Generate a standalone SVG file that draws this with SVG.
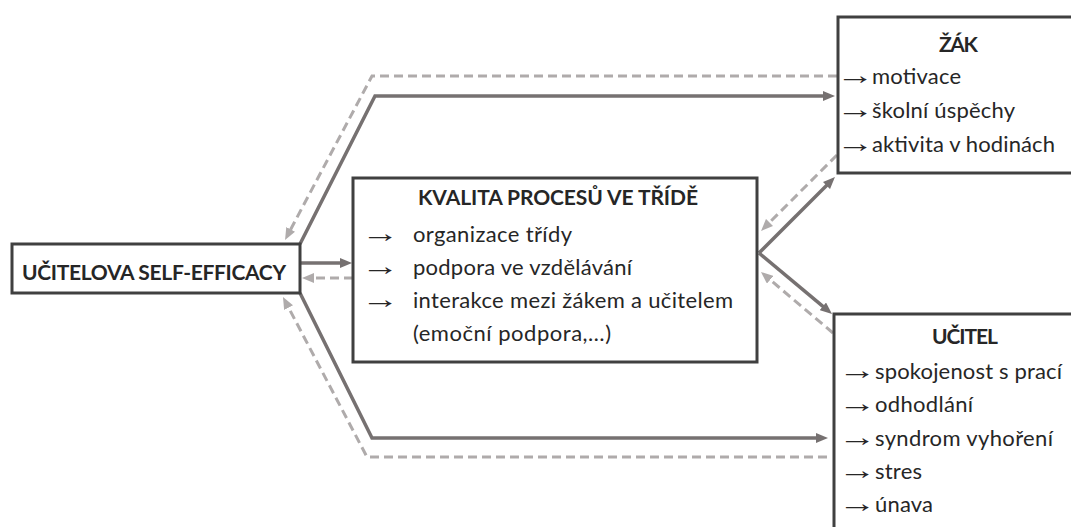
<svg xmlns="http://www.w3.org/2000/svg" width="1071" height="527" viewBox="0 0 1071 527">
<style>
.box{fill:#fff;stroke:#404040;stroke-width:3}
.t{font-family:Lato,"Noto Sans","DejaVu Sans",sans-serif;font-size:22px;fill:#262626}
.b{font-weight:bold;font-size:21px}
.ar{font-family:"Liberation Serif","DejaVu Serif",serif;font-size:26px}
.s{fill:none;stroke:#767171;stroke-width:3.5}
.d{fill:none;stroke:#AFABAB;stroke-width:3;stroke-dasharray:9 5}
</style>
<defs>
<marker id="ms" viewBox="0 0 12 10" markerWidth="12" markerHeight="10" refX="4" refY="5" orient="auto" markerUnits="userSpaceOnUse"><path d="M0,0 L12,5 L0,10 z" fill="#767171"/></marker>
<marker id="md" viewBox="0 0 12 10" markerWidth="12" markerHeight="10" refX="4" refY="5" orient="auto" markerUnits="userSpaceOnUse"><path d="M0,0 L12,5 L0,10 z" fill="#AFABAB"/></marker>
</defs>
<rect width="1071" height="527" fill="#fff"/>
<g id="connectors">
<path class="s" d="M300,244 L375,96 L827,96" marker-end="url(#ms)"/>
<path class="d" d="M837,76 L372,76 L288.8,232.9" marker-end="url(#md)"/>
<path class="s" d="M300,263 L344,263" marker-end="url(#ms)"/>
<path class="d" d="M353,278 L310,278" marker-end="url(#md)"/>
<path class="s" d="M300,293 L372,438 L820,438" marker-end="url(#ms)"/>
<path class="d" d="M827,457 L367,457 L286.7,304.1" marker-end="url(#md)"/>
<path class="s" d="M759,253 L829.3,182.7" marker-end="url(#ms)"/>
<path class="s" d="M759,253 L825.9,308.9" marker-end="url(#ms)"/>
<path class="d" d="M837,155 L766.7,225.3" marker-end="url(#md)"/>
<path class="d" d="M833,333 L767.1,277.2" marker-end="url(#md)"/>
</g>
<g id="self-efficacy">
<rect class="box" x="12" y="244" width="288" height="49"/>
<text class="t b" x="22" y="280" textLength="264">UČITELOVA SELF-EFFICACY</text>
</g>
<g id="kvalita">
<rect class="box" x="353" y="178" width="404" height="184"/>
<text class="t b" x="418" y="205" textLength="280">KVALITA PROCESŮ VE TŘÍDĚ</text>
<text class="t"><tspan class="ar" x="361.5" y="241.7" textLength="38" lengthAdjust="spacingAndGlyphs">→</tspan><tspan x="413" y="242" textLength="159">organizace třídy</tspan></text>
<text class="t"><tspan class="ar" x="361.5" y="274.7" textLength="38" lengthAdjust="spacingAndGlyphs">→</tspan><tspan x="413" y="275" textLength="219">podpora ve vzdělávání</tspan></text>
<text class="t"><tspan class="ar" x="361.5" y="307.7" textLength="38" lengthAdjust="spacingAndGlyphs">→</tspan><tspan x="413" y="308" textLength="320">interakce mezi žákem a učitelem</tspan></text>
<text class="t" x="413" y="341" textLength="198">(emoční podpora,…)</text>
</g>
<g id="zak">
<rect class="box" x="838" y="17" width="240" height="156"/>
<text class="t b" x="939" y="52" textLength="39">ŽÁK</text>
<text class="t"><tspan class="ar" x="836.5" y="83.7" textLength="38" lengthAdjust="spacingAndGlyphs">→</tspan><tspan x="872" y="84" textLength="89">motivace</tspan></text>
<text class="t"><tspan class="ar" x="836.5" y="117.7" textLength="38" lengthAdjust="spacingAndGlyphs">→</tspan><tspan x="872" y="118" textLength="143">školní úspěchy</tspan></text>
<text class="t"><tspan class="ar" x="836.5" y="151.7" textLength="38" lengthAdjust="spacingAndGlyphs">→</tspan><tspan x="872" y="152" textLength="183">aktivita v hodinách</tspan></text>
</g>
<g id="ucitel">
<rect class="box" x="834" y="314" width="240" height="240"/>
<text class="t b" x="932" y="344" textLength="66">UČITEL</text>
<text class="t"><tspan class="ar" x="838.5" y="378.7" textLength="38" lengthAdjust="spacingAndGlyphs">→</tspan><tspan x="875" y="379" textLength="187">spokojenost s prací</tspan></text>
<text class="t"><tspan class="ar" x="838.5" y="411.7" textLength="38" lengthAdjust="spacingAndGlyphs">→</tspan><tspan x="875" y="412" textLength="98">odhodlání</tspan></text>
<text class="t"><tspan class="ar" x="838.5" y="445.7" textLength="38" lengthAdjust="spacingAndGlyphs">→</tspan><tspan x="875" y="446" textLength="178">syndrom vyhoření</tspan></text>
<text class="t"><tspan class="ar" x="838.5" y="478.7" textLength="38" lengthAdjust="spacingAndGlyphs">→</tspan><tspan x="875" y="479" textLength="47">stres</tspan></text>
<text class="t"><tspan class="ar" x="838.5" y="511.7" textLength="38" lengthAdjust="spacingAndGlyphs">→</tspan><tspan x="875" y="512" textLength="58">únava</tspan></text>
</g>
</svg>
